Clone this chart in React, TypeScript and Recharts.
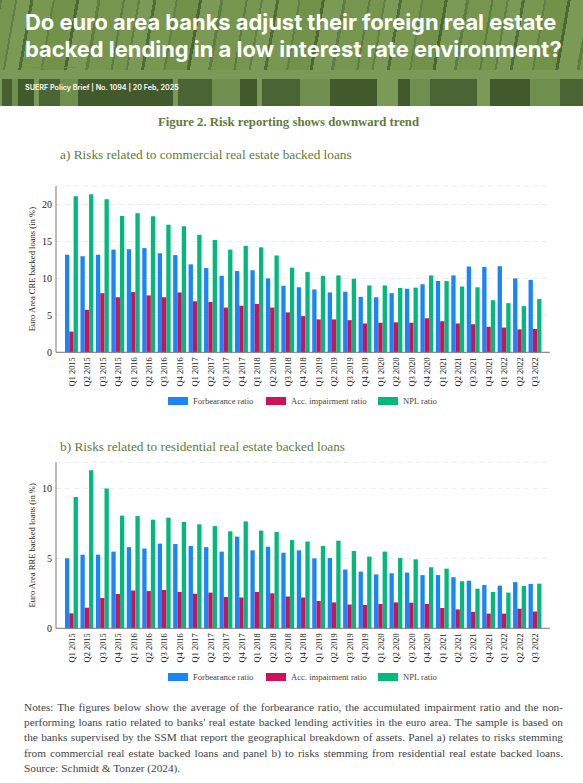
import React from "react";
import { BarChart, Bar, XAxis, YAxis, CartesianGrid } from "recharts";

const quarters = [
  "Q1 2015","Q2 2015","Q3 2015","Q4 2015","Q1 2016","Q2 2016","Q3 2016","Q4 2016",
  "Q1 2017","Q2 2017","Q3 2017","Q4 2017","Q1 2018","Q2 2018","Q3 2018","Q4 2018",
  "Q1 2019","Q2 2019","Q3 2019","Q4 2019","Q1 2020","Q2 2020","Q3 2020","Q4 2020",
  "Q1 2021","Q2 2021","Q3 2021","Q4 2021","Q1 2022","Q2 2022","Q3 2022",
];

const creForbearance = [13.2,13.0,13.2,13.9,13.95,14.1,13.4,13.15,11.9,11.4,10.35,11.0,11.1,10.0,9.0,8.8,8.5,8.1,8.2,7.5,7.45,8.0,8.6,9.2,9.65,10.4,11.6,11.55,11.65,10.0,9.8];
const creImpairment = [2.8,5.75,8.0,7.45,8.15,7.7,7.45,8.1,6.9,6.8,6.05,6.3,6.55,6.05,5.4,4.9,4.45,4.45,4.35,3.9,4.0,4.05,4.0,4.6,4.2,3.9,3.8,3.45,3.35,3.1,3.15];
const creNpl = [21.1,21.4,20.7,18.45,18.8,18.4,17.25,17.05,15.9,15.2,13.9,14.4,14.2,13.1,11.45,10.85,10.35,10.4,9.95,9.05,9.05,8.7,8.75,10.4,9.65,8.9,8.8,7.05,6.65,6.25,7.2];

const rreForbearance = [5.0,5.26,5.26,5.48,5.8,5.7,6.05,6.02,5.88,5.8,5.48,6.55,5.57,5.83,5.4,5.57,5.0,5.02,4.2,4.05,3.85,3.93,3.98,3.8,3.8,3.65,3.4,3.1,3.05,3.3,3.17];
const rreImpairment = [1.07,1.47,2.17,2.45,2.7,2.66,2.74,2.6,2.47,2.55,2.24,2.2,2.6,2.5,2.27,2.2,1.95,1.85,1.7,1.67,1.74,1.85,1.83,1.74,1.45,1.35,1.17,1.05,1.05,1.4,1.2];
const rreNpl = [9.38,11.3,9.98,8.05,8.02,7.76,7.9,7.6,7.43,7.3,6.93,7.64,6.98,6.88,6.3,6.2,5.88,6.26,5.52,5.12,5.48,5.02,4.93,4.36,4.26,3.36,2.83,2.6,2.55,3.02,3.19];

const seriesNames = ["Forbearance ratio", "Acc. impairment ratio", "NPL ratio"];
const seriesColors = ["#1a84f9", "#d1105c", "#00b97a"];
const creTicks = [0, 5, 10, 15, 20];
const rreTicks = [0, 5, 10];

const noteLines = [
  "Notes: The figures below show the average of the forbearance ratio, the accumulated impairment ratio and the non-",
  "performing loans ratio related to banks' real estate backed lending activities in the euro area. The sample is based on",
  "the banks supervised by the SSM that report the geographical breakdown of assets. Panel a) relates to risks stemming",
  "from commercial real estate backed loans and panel b) to risks stemming from residential real estate backed loans.",
  "Source: Schmidt & Tonzer (2024).",
];

const serif = "'Liberation Serif', serif";

const toRows = (a: number[], b: number[], c: number[]) =>
  quarters.map((q, i) => ({ q, a: a[i], b: b[i], c: c[i] }));

function RotTick({ x, payload, labelTop }: any) {
  return (
    <text
      x={0}
      y={0}
      transform={`translate(${x + 3},${labelTop}) rotate(-90)`}
      textAnchor="end"
      fontFamily={serif}
      fontSize={8.4}
      fill="#222"
    >
      {payload.value}
    </text>
  );
}

function LegendRow({ top }: { top: number }) {
  const xs = [168, 266, 378];
  return (
    <>
      {seriesNames.map((n, i) => (
        <React.Fragment key={n}>
          <div style={{ position: "absolute", left: xs[i], top: top, width: 20, height: 8, background: seriesColors[i] }} />
          <div style={{ position: "absolute", left: xs[i] + 25, top: top - 2, fontFamily: serif, fontSize: 8.6, lineHeight: "12px", color: "#444", whiteSpace: "nowrap" }}>{n}</div>
        </React.Fragment>
      ))}
    </>
  );
}

function Panel(props: {
  top: number; plotTop: number; plotHeight: number; yMax: number;
  ticks: number[]; rows: any[]; yLabel: string;
}) {
  const { top, plotTop, plotHeight, yMax, ticks, rows, yLabel } = props;
  const axisY = plotTop - top + plotHeight;
  const height = axisY + 50;
  const labelCy = plotTop - top + plotHeight / 2;
  return (
    <div style={{ position: "absolute", left: 0, top, width: 583, height }}>
      <BarChart
        width={583}
        height={height}
        data={rows}
        barSize={4.3}
        barGap={0}
        barCategoryGap={1.5}
        margin={{ top: plotTop - top, right: 33, left: 26, bottom: 0 }}
      >
        <CartesianGrid vertical={false} stroke="#ececec" strokeDasharray="5 4" />
        <XAxis
          dataKey="q"
          interval={0}
          height={50}
          padding={{ left: 8, right: 7 }}
          tick={<RotTick labelTop={axisY + 5} />}
          tickLine={false}
          axisLine={{ stroke: "#777", strokeWidth: 1 }}
        />
        <YAxis
          width={30}
          domain={[0, yMax]}
          ticks={ticks}
          tickLine={false}
          tickSize={1}
          tickMargin={3}
          axisLine={{ stroke: "#777", strokeWidth: 1 }}
          tick={{ fontFamily: serif, fontSize: 10, fill: "#222" }}
          label={{
            content: () => (
              <text
                transform={`translate(35,${labelCy}) rotate(-90)`}
                textAnchor="middle"
                fontFamily={serif}
                fontSize={8.6}
                fill="#222"
              >
                {yLabel}
              </text>
            ),
          }}
        />
        <Bar dataKey="a" name={seriesNames[0]} fill={seriesColors[0]} isAnimationActive={false} />
        <Bar dataKey="b" name={seriesNames[1]} fill={seriesColors[1]} isAnimationActive={false} />
        <Bar dataKey="c" name={seriesNames[2]} fill={seriesColors[2]} isAnimationActive={false} />
      </BarChart>
    </div>
  );
}

const upperBooks = `repeating-linear-gradient(100deg, #5c7a41 0 2px, #76964f 2px 15px, #617f45 15px 17px, #7a9a55 17px 30px, #4f6d37 30px 33px, #78984f 33px 52px, #617f45 52px 54px, #729249 54px 75px, #4b6733 75px 78px, #7a9a55 78px 96px, #5f7d43 96px 99px, #76964f 99px 121px)`;
const lowerBooks = `linear-gradient(90deg, #7b9a58 0 2px, #46602f 2px 12px, #6f8f4e 12px 18px, #42592b 18px 34px, #7b9a58 34px 39px, #4a6433 39px 60px, #6f8f4e 60px 78px, #42592b 78px 173px, #7b9a58 173px 178px, #4a6433 178px 212px, #71904f 212px 240px, #42592b 240px 257px, #7b9a58 257px 262px, #4a6433 262px 300px, #71904f 300px 330px, #42592b 330px 377px, #7b9a58 377px 398px, #42592b 398px 410px, #6f8f4e 410px 430px, #4a6433 430px 477px, #7b9a58 477px 490px, #42592b 490px 530px, #6f8f4e 530px 560px, #4a6433 560px 583px)`;

export default function App() {
  return (
    <div style={{ position: "absolute", left: 0, top: 0, width: 583, height: 783, background: "#fff", overflow: "hidden" }}>
      <div style={{ position: "absolute", left: 0, top: 0, width: 583, height: 106, background: "#6c8c4a", overflow: "hidden" }}>
        <div style={{ position: "absolute", left: 0, top: 0, width: 583, height: 70, backgroundImage: upperBooks }} />
        <div style={{ position: "absolute", left: 0, top: 70, width: 583, height: 9, background: "#7b9a58" }} />
        <div style={{ position: "absolute", left: 0, top: 79, width: 583, height: 27, backgroundImage: lowerBooks }} />
        <div style={{ position: "absolute", left: 25, top: 9, fontFamily: "Inter, sans-serif", fontWeight: 700, fontSize: 21.9, lineHeight: "26.5px", color: "#fff", whiteSpace: "nowrap" }}>
          Do euro area banks adjust their foreign real estate<br />backed lending in a low interest rate environment?
        </div>
        <div style={{ position: "absolute", left: 25, top: 66.5, width: 51, height: 1.5, background: "#d9661f" }} />
        <div style={{ position: "absolute", left: 25, top: 82, fontFamily: "Inter, sans-serif", fontWeight: 600, fontSize: 7.2, lineHeight: "12px", color: "#fff", whiteSpace: "nowrap" }}>
          SUERF Policy Brief | No. 1094 | 20 Feb, 2025
        </div>
      </div>

      <div style={{ position: "absolute", left: 0, top: 114, width: 577, textAlign: "center", fontFamily: serif, fontWeight: 700, fontSize: 12.75, lineHeight: "16px", color: "#5f7a3a" }}>
        Figure 2. Risk reporting shows downward trend
      </div>
      <div style={{ position: "absolute", left: 60, top: 147, fontFamily: serif, fontSize: 13.3, lineHeight: "16px", color: "#5f7a3a" }}>
        a) Risks related to commercial real estate backed loans
      </div>
      <Panel top={170} plotTop={186} plotHeight={166.3} yMax={22.5} ticks={creTicks} rows={toRows(creForbearance, creImpairment, creNpl)} yLabel="Euro Area CRE backed loans (in %)" />
      <LegendRow top={397} />

      <div style={{ position: "absolute", left: 60, top: 439, fontFamily: serif, fontSize: 13.3, lineHeight: "16px", color: "#5f7a3a" }}>
        b) Risks related to residential real estate backed loans
      </div>
      <Panel top={455} plotTop={462.3} plotHeight={166} yMax={11.86} ticks={rreTicks} rows={toRows(rreForbearance, rreImpairment, rreNpl)} yLabel="Euro Area RRE backed loans (in %)" />
      <LegendRow top={673} />

      <div style={{ position: "absolute", left: 24, top: 700, width: 539, fontFamily: serif, fontSize: 11.3, lineHeight: "15.2px", color: "#444" }}>
        {noteLines.map((l, i) => (
          <div key={i} style={{ textAlign: i < 4 ? "justify" : "left", textAlignLast: i < 4 ? "justify" : "left", whiteSpace: "normal" }}>{l}</div>
        ))}
      </div>
    </div>
  );
}
